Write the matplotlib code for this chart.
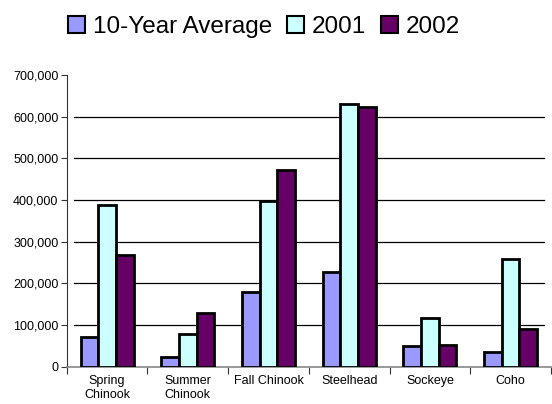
import matplotlib.pyplot as plt
import numpy as np
from matplotlib.ticker import FuncFormatter

plt.rcParams["font.family"] = ["Liberation Sans", "DejaVu Sans"]

categories = ["Spring\nChinook", "Summer\nChinook", "Fall Chinook", "Steelhead", "Sockeye", "Coho"]
avg_10yr = [72000, 23000, 180000, 228000, 50000, 36000]
y2001 = [389000, 79000, 398000, 631000, 117000, 259000]
y2002 = [269000, 129000, 472000, 624000, 53000, 91000]
series_names = ["10-Year Average", "2001", "2002"]
colors = ["#9999FF", "#CCFFFF", "#660066"]

fig = plt.figure(figsize=(5.52, 4.04), dpi=100)
ax = fig.add_axes([0.121, 0.092, 0.877, 0.722])

x = np.arange(len(categories))
w = 0.22
for i, (vals, name, c) in enumerate(zip([avg_10yr, y2001, y2002], series_names, colors)):
    ax.bar(x + (i - 1) * w, vals, w, color=c, edgecolor="black", linewidth=2.0, label=name, zorder=3)

# gridlines sit a little inside the axes, like the original 3D-ish floor
for v in range(100000, 700000, 100000):
    ax.axhline(v, xmin=0.015, xmax=0.985, color="black", linewidth=0.9, zorder=1)

ax.set_xlim(-0.5, len(categories) - 0.5)
ax.set_ylim(0, 700000)
ax.set_yticks(range(0, 700001, 100000))
ax.yaxis.set_major_formatter(FuncFormatter(lambda v, p: f"{int(v):,}"))
ax.set_xticks(np.arange(len(categories) + 1) - 0.5)
ax.set_xticklabels([])
ax.set_xticks(x, minor=True)
ax.set_xticklabels(categories, minor=True, fontsize=9)
ax.tick_params(axis="x", which="minor", length=0, pad=6)
ax.tick_params(axis="x", which="major", length=5, direction="out", color="#333333")
ax.tick_params(axis="y", labelsize=9, length=4, color="#333333", pad=2)

for s in ["top", "right"]:
    ax.spines[s].set_visible(False)
ax.spines["left"].set_color("#333333")
ax.spines["bottom"].set_color("#888888")
ax.spines["bottom"].set_linewidth(1.2)

handles, labels = ax.get_legend_handles_labels()
leg = fig.legend(handles, labels, loc="upper center", bbox_to_anchor=(0.478, 1.015), ncol=3,
                 frameon=False, fontsize=17.5, handlelength=0.7, handleheight=0.7,
                 handletextpad=0.33, columnspacing=0.6)
for h in leg.legend_handles:
    h.set_linewidth(1.5)

fig.savefig("out.png", dpi=100)
